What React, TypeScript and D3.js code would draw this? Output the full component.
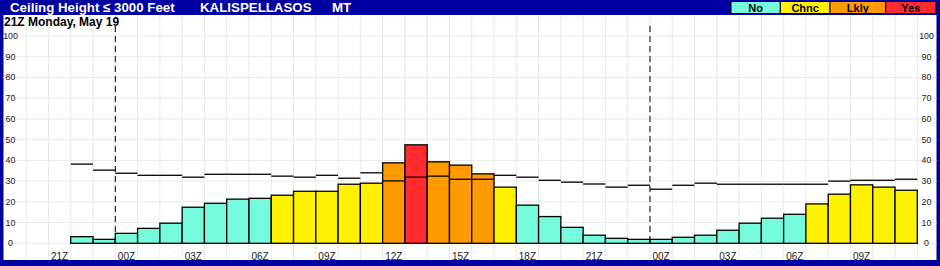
import React from "react";
import * as d3 from "d3";

// Slots (hourly) shown on the x axis, 20Z day0 .. 11Z day2
const slots: string[] = [
  "20Z-0", "21Z-0", "22Z-0", "23Z-0",
  "00Z-1", "01Z-1", "02Z-1", "03Z-1", "04Z-1", "05Z-1", "06Z-1", "07Z-1", "08Z-1", "09Z-1", "10Z-1", "11Z-1",
  "12Z-1", "13Z-1", "14Z-1", "15Z-1", "16Z-1", "17Z-1", "18Z-1", "19Z-1", "20Z-1", "21Z-1", "22Z-1", "23Z-1",
  "00Z-2", "01Z-2", "02Z-2", "03Z-2", "04Z-2", "05Z-2", "06Z-2", "07Z-2", "08Z-2", "09Z-2", "10Z-2", "11Z-2",
];

// Bars start at 22Z day0
const barSlots: string[] = slots.slice(2);
const probValues: number[] = [
  3.2, 1.9,
  4.8, 7.2, 9.7, 17.4, 19.3, 21.3, 21.7, 23.2, 25.1, 25.1, 28.5, 29.0,
  38.8, 47.5, 39.3, 37.7, 33.5, 27.1, 18.4, 12.9, 7.7, 3.9, 2.4, 1.9,
  1.9, 2.9, 3.9, 6.3, 9.7, 12.1, 14.0, 19.0, 23.7, 28.2, 27.1, 25.6,
];
const categories: string[] = [
  "No", "No",
  "No", "No", "No", "No", "No", "No", "No", "Chnc", "Chnc", "Chnc", "Chnc", "Chnc",
  "Lkly", "Yes", "Lkly", "Lkly", "Lkly", "Chnc", "No", "No", "No", "No", "No", "No",
  "No", "No", "No", "No", "No", "No", "No", "Chnc", "Chnc", "Chnc", "Chnc", "Chnc",
];
const climoValues: number[] = [
  38.2, 35.3,
  33.8, 32.8, 32.8, 31.9, 33.3, 33.3, 33.3, 32.4, 31.9, 32.8, 31.4, 34.0,
  30.1, 31.9, 32.4, 30.9, 30.9, 32.8, 31.9, 30.4, 29.5, 28.6, 27.1, 28.0,
  26.1, 28.0, 29.0, 28.5, 28.5, 28.5, 28.5, 28.5, 30.0, 30.4, 30.4, 30.9,
];

const xTickSlots: string[] = ["21Z-0", "00Z-1", "03Z-1", "06Z-1", "09Z-1", "12Z-1", "15Z-1", "18Z-1", "21Z-1", "00Z-2", "03Z-2", "06Z-2", "09Z-2"];
const dayStartSlots: string[] = ["00Z-1", "00Z-2"];
const yTicks: number[] = [0, 10, 20, 30, 40, 50, 60, 70, 80, 90, 100];

const legendLabels: string[] = ["No", "Chnc", "Lkly", "Yes"];
const legendColors: string[] = ["#75FBDC", "#FFF200", "#FF9A00", "#FF2B2E"];
const legendEdges: number[] = [731, 780.3, 830, 885.7, 936];

const titleText = "Ceiling Height \u2264 3000 Feet";
const stationText = "KALISPELLASOS";
const stateText = "MT";
const subtitleText = "21Z Monday, May 19";

const FONT = "'Liberation Sans', Arial, Helvetica, sans-serif";
const BLUE = "#0000A0";

export default function App() {
  const W = 940, H = 266;
  const x = d3.scaleBand<string>().domain(slots).range([26.2, 917.3]).padding(0);
  const y = d3.scaleLinear().domain([0, 100]).range([243.3, 36]);
  const colorOf = d3.scaleOrdinal<string, string>().domain(legendLabels).range(legendColors);
  const bw = x.bandwidth();

  const vGrid = slots.map((s) => x(s) as number).concat([917.3]);

  return (
    <svg width={W} height={H} style={{ position: "absolute", left: 0, top: 0 }} fontFamily={FONT}>
      <rect x={0} y={0} width={W} height={H} fill={BLUE} />
      <rect x={3.5} y={15} width={933} height={245} fill="#ffffff" />

      {/* title */}
      <text x={10} y={12.2} fill="#fff" fontWeight="bold" fontSize={13.3}>{titleText}</text>
      <text x={200} y={12.2} fill="#fff" fontWeight="bold" fontSize={13.3}>{stationText}</text>
      <text x={332} y={12.2} fill="#fff" fontWeight="bold" fontSize={13.3}>{stateText}</text>

      {/* legend */}
      {legendLabels.map((l, i) => (
        <g key={l}>
          <rect x={legendEdges[i]} y={1.5} width={legendEdges[i + 1] - legendEdges[i]} height={12} fill={legendColors[i]} stroke="#000" strokeWidth={1} />
          <text x={(legendEdges[i] + legendEdges[i + 1]) / 2} y={11.8} textAnchor="middle" fontWeight="bold" fontSize={11} fill="#000">{l}</text>
        </g>
      ))}

      {/* grid */}
      {vGrid.map((gx, i) => (
        <line key={"v" + i} x1={gx} x2={gx} y1={15} y2={260} stroke="#e8e8e8" strokeWidth={1} />
      ))}
      {yTicks.map((t) => (
        <line key={"h" + t} x1={3.5} x2={936.5} y1={y(t)} y2={y(t)} stroke="#e8e8e8" strokeWidth={1} />
      ))}

      {/* y labels */}
      {yTicks.map((t) => (
        <g key={"yl" + t}>
          <text x={10.5} y={y(t) + 3} textAnchor="middle" fontSize={8.8} fill="#222">{t}</text>
          <text x={926.5} y={y(t) + 3} textAnchor="middle" fontSize={8.8} fill="#222">{t}</text>
        </g>
      ))}

      {/* subtitle */}
      <text x={4} y={26} fontWeight="bold" fontSize={12} fill="#000">{subtitleText}</text>

      {/* bars */}
      {barSlots.map((s, i) => (
        <rect key={"b" + s} x={x(s)} y={y(probValues[i])} width={bw} height={y(0) - y(probValues[i])}
          fill={colorOf(categories[i])} stroke="#000" strokeWidth={1.3} />
      ))}

      {/* climatology lines */}
      {barSlots.map((s, i) => (
        <line key={"c" + s} x1={x(s) as number} x2={(x(s) as number) + bw} y1={y(climoValues[i])} y2={y(climoValues[i])}
          stroke="#000" strokeWidth={1.3} />
      ))}

      {/* day separators */}
      {dayStartSlots.map((s) => (
        <line key={"d" + s} x1={x(s) as number} x2={x(s) as number} y1={26} y2={y(0)} stroke="#000" strokeWidth={1} strokeDasharray="6,4" />
      ))}

      {/* x labels */}
      {xTickSlots.map((s) => (
        <text key={"xl" + s} x={(x(s) as number) + bw / 2} y={259.5} textAnchor="middle" fontSize={10} fill="#222">{s.split("-")[0]}</text>
      ))}
    </svg>
  );
}
